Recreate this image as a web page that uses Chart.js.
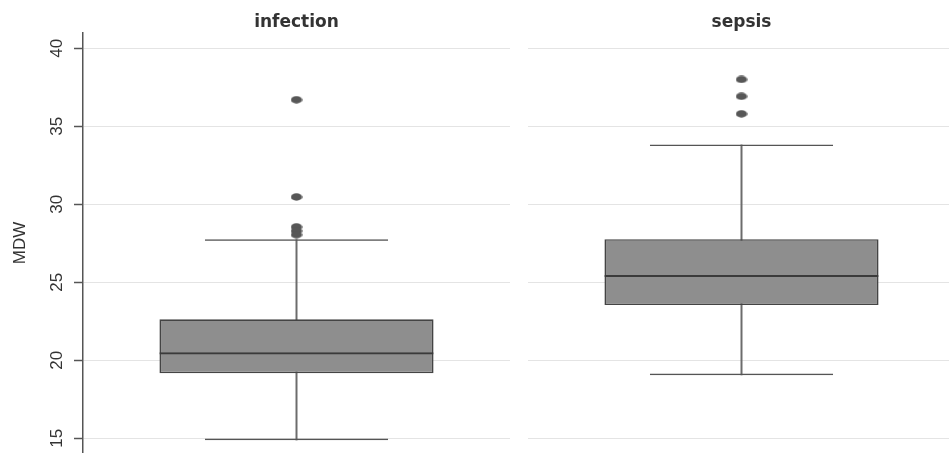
<!DOCTYPE html>
<html>
<head>
<meta charset="utf-8">
<script src="https://cdn.jsdelivr.net/npm/chart.js@4/dist/chart.umd.min.js"></script>
<style>
  html, body { margin: 0; padding: 0; background: #fff; overflow: hidden; width: 949px; height: 453px; }
  #leftPanel { position: absolute; left: 0; top: 0; width: 519px; height: 453px; }
  #rightPanel { position: absolute; left: 519px; top: 0; width: 436px; height: 453px; }
</style>
</head>
<body>
<div id="leftPanel"><canvas id="chartInfection"></canvas></div>
<div id="rightPanel"><canvas id="chartSepsis"></canvas></div>
<script>
// Box-plot summaries of MDW by group
const groups      = ['infection', 'sepsis'];
const whiskerLow  = [14.87, 19.04];
const quartile1   = [19.17, 23.54];
const medians     = [20.51, 25.47];
const quartile3   = [22.63, 27.76];
const whiskerHigh = [27.76, 33.83];
const outliers    = [
  [36.70, 30.47, 28.55, 28.30, 28.05],
  [38.00, 36.92, 35.80]
];
const yTicks = [15, 20, 25, 30, 35, 40];
const yRange = [14.06, 40.98];

// Slightly oval marker used for outside values
function ovalDot(w, h, color) {
  const c = document.createElement('canvas');
  c.width = w; c.height = h;
  const g = c.getContext('2d');
  g.fillStyle = color;
  g.beginPath();
  g.ellipse(w / 2, h / 2, w / 2 - 0.3, h / 2 - 0.3, 0, 0, Math.PI * 2);
  g.fill();
  return c;
}
const dot = ovalDot(12, 8, '#575757');

const GRID = '#e4e4e4';
const AXIS = '#555555';
const BOX_FILL = '#8e8e8e';
const BOX_EDGE = '#444444';
const BOX_WIDTH = 0.642;
const CAP_WIDTH = 0.429;
const LABEL_FONT = '"Liberation Sans", Arial, sans-serif';
const CLEAR = 'rgba(0,0,0,0)';

function buildPanel(canvasId, i, withAxis) {
  const bar = { type: 'bar', grouped: false, categoryPercentage: 1, borderSkipped: false, inflateAmount: 0 };
  const datasets = [
    { // outside values
      type: 'line', showLine: false,
      data: outliers[i].map(v => ({ x: groups[i], y: v })),
      pointStyle: dot, pointRadius: 6, pointHoverRadius: 6
    },
    { ...bar, // median line: top edge of a hollow q1..median bar
      data: [[quartile1[i], medians[i]]], barPercentage: BOX_WIDTH,
      backgroundColor: CLEAR, borderColor: '#3a3a3a',
      borderWidth: { top: 2, left: 0, right: 0, bottom: 0 }
    },
    { ...bar, // interquartile box
      data: [[quartile1[i], quartile3[i]]], barPercentage: BOX_WIDTH,
      backgroundColor: BOX_FILL, borderColor: BOX_EDGE, borderWidth: 1.6
    },
    { ...bar, // upper whisker cap
      data: [[quartile3[i], whiskerHigh[i]]], barPercentage: CAP_WIDTH,
      backgroundColor: CLEAR, borderColor: AXIS,
      borderWidth: { top: 1.5, left: 0, right: 0, bottom: 0 }
    },
    { ...bar, // lower whisker cap
      data: [[whiskerLow[i], quartile1[i]]], barPercentage: CAP_WIDTH,
      backgroundColor: CLEAR, borderColor: AXIS,
      borderWidth: { top: 0, left: 0, right: 0, bottom: 1.5 }
    },
    { ...bar, // whisker stem
      data: [[whiskerLow[i], whiskerHigh[i]]], barThickness: 2,
      backgroundColor: '#6c6c6c', borderWidth: 0
    }
  ];

  const yAxis = {
    min: yRange[0], max: yRange[1], position: 'left',
    afterBuildTicks: s => { s.ticks = yTicks.map(v => ({ value: v })); },
  };
  if (withAxis) {
    Object.assign(yAxis, {
      afterFit: s => { s.width = 83; s.paddingTop = 0; s.paddingBottom = 0; },
      ticks: {
        minRotation: 90, maxRotation: 90, crossAlign: 'center', padding: 7,
        color: '#333', font: { family: LABEL_FONT, size: 17 }
      },
      grid: { color: GRID, lineWidth: 1, tickColor: AXIS, tickLength: 9, tickWidth: 1.5 },
      border: { display: true, color: AXIS, width: 1.5 },
      title: {
        display: true, text: 'MDW', color: '#333',
        font: { family: LABEL_FONT, size: 17 },
        padding: { top: 10, bottom: 0 }
      }
    });
  } else {
    Object.assign(yAxis, {
      afterFit: s => { s.width = 0; s.paddingTop = 0; s.paddingBottom = 0; },
      ticks: { display: false },
      grid: { color: GRID, lineWidth: 1, drawTicks: false },
      border: { display: false }
    });
  }

  return new Chart(document.getElementById(canvasId), {
    type: 'bar',
    data: { labels: [groups[i]], datasets },
    options: {
      responsive: true, maintainAspectRatio: false, animation: false,
      layout: {
        autoPadding: false,
        padding: { left: withAxis ? 0 : 9, right: withAxis ? 9 : 0, top: 0, bottom: 0 }
      },
      scales: {
        x: { display: false, offset: true },
        y: yAxis
      },
      plugins: {
        legend: { display: false },
        tooltip: { enabled: false },
        title: {
          display: true, fullSize: false, text: groups[i], color: '#333',
          font: { family: '"DejaVu Sans", sans-serif', size: 17, weight: 'bold' },
          padding: { top: 12, bottom: 0.6 }
        }
      }
    }
  });
}

buildPanel('chartInfection', 0, true);
buildPanel('chartSepsis', 1, false);
</script>
</body>
</html>
